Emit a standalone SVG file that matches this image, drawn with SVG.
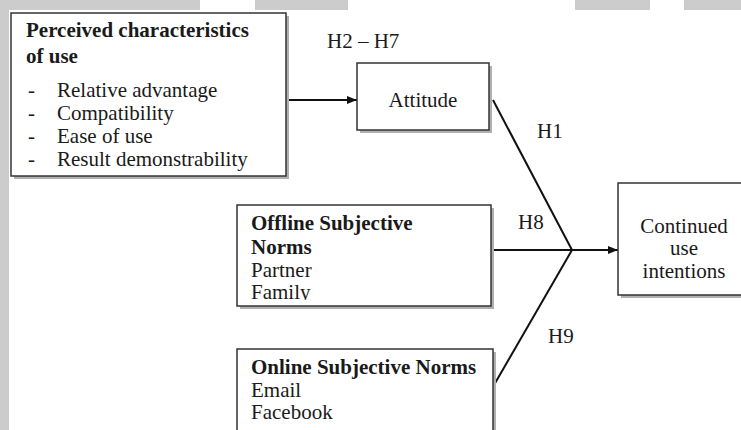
<svg xmlns="http://www.w3.org/2000/svg" width="741" height="430" viewBox="0 0 741 430">
<style>
text{font-family:'Liberation Serif','Times New Roman','DejaVu Serif',serif;font-size:21px;fill:#1a1a1a}
.b{font-weight:bold}
.box{fill:#fff;stroke:#333;stroke-width:1.5}
.sh{fill:#b0b0b0}
.bg{fill:#cccccc}
.ln{stroke:#111;stroke-width:2;fill:none}
.c{text-anchor:middle}
</style>
<defs>
<marker id="ah" markerWidth="10" markerHeight="8" refX="10" refY="4" orient="auto" markerUnits="userSpaceOnUse">
<path d="M0,0 L10,4 L0,8 Z" fill="#111"/>
</marker>
<clipPath id="offclip"><rect x="237" y="205" width="254" height="95"/></clipPath>
<clipPath id="h27clip"><rect x="300" y="20" width="120" height="28"/></clipPath>
</defs>
<rect width="741" height="430" fill="#fff"/>
<g id="background">
<rect class="bg" x="0" y="0" width="9" height="430"/>
<rect class="bg" x="0" y="0" width="200" height="10"/>
<rect class="bg" x="255" y="0" width="93" height="10"/>
<rect class="bg" x="575" y="0" width="75" height="10"/>
<rect class="bg" x="684" y="0" width="57" height="10"/>
</g>
<g id="connectors">
<line class="ln" x1="286" y1="100" x2="357" y2="100" marker-end="url(#ah)"/>
<line class="ln" x1="493" y1="100" x2="572" y2="250"/>
<line class="ln" x1="491" y1="250" x2="572" y2="250"/>
<line class="ln" x1="494" y1="385" x2="572" y2="250"/>
<line class="ln" x1="572" y1="250" x2="618" y2="250" marker-end="url(#ah)"/>
<text x="327" y="48" clip-path="url(#h27clip)">H2 – H7</text>
<text x="537" y="138">H1</text>
<text x="518" y="229">H8</text>
<text x="548" y="343">H9</text>
</g>
<g id="perceived">
<rect class="sh" x="14" y="16" width="275" height="163"/>
<rect class="box" x="11" y="13" width="275" height="163"/>
<text class="b" x="26" y="37">Perceived characteristics</text>
<text class="b" x="26" y="63">of use</text>
<text x="28" y="97">-</text><text x="57" y="97">Relative advantage</text>
<text x="28" y="120">-</text><text x="57" y="120">Compatibility</text>
<text x="28" y="143">-</text><text x="57" y="143">Ease of use</text>
<text x="28" y="166">-</text><text x="57" y="166">Result demonstrability</text>
</g>
<g id="attitude">
<rect class="sh" x="360" y="66" width="132" height="67"/>
<rect class="box" x="357" y="63" width="132" height="67"/>
<text class="c" x="423" y="107">Attitude</text>
</g>
<g id="offline">
<rect class="sh" x="240" y="208" width="254" height="101"/>
<rect class="box" x="237" y="205" width="254" height="101"/>
<g clip-path="url(#offclip)">
<text class="b" x="251" y="230">Offline Subjective</text>
<text class="b" x="251" y="254">Norms</text>
<text x="251" y="277">Partner</text>
<text x="251" y="299">Family</text>
</g>
</g>
<g id="online">
<rect class="sh" x="240" y="352" width="256" height="90"/>
<rect class="box" x="237" y="349" width="256" height="90"/>
<text class="b" x="251" y="374">Online Subjective Norms</text>
<text x="251" y="397">Email</text>
<text x="251" y="419">Facebook</text>
</g>
<g id="continued">
<rect class="sh" x="621" y="186" width="140" height="112"/>
<rect class="box" x="618" y="183" width="140" height="112"/>
<text class="c" x="684" y="233">Continued</text>
<text class="c" x="684" y="255">use</text>
<text class="c" x="684" y="278">intentions</text>
</g>
</svg>
